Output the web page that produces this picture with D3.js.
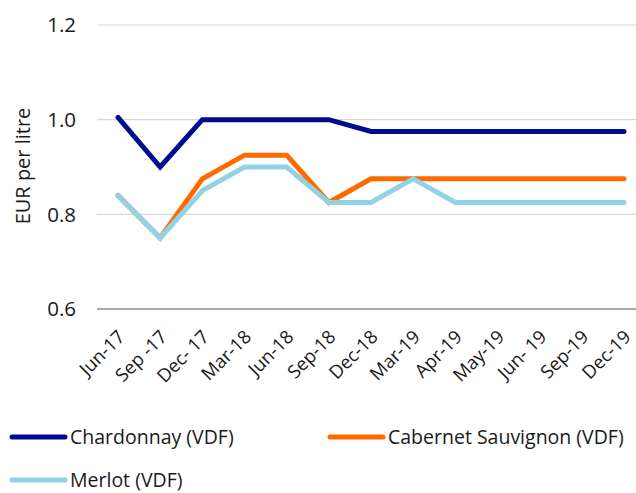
<!DOCTYPE html>
<html>
<head>
<meta charset="utf-8">
<script src="https://cdn.jsdelivr.net/npm/d3@7/dist/d3.min.js"></script>
<style>
  body { margin: 0; background: #fff; }
  text { font-family: "Open Sans", "Noto Sans", sans-serif; fill: #1a1a1a; }
</style>
</head>
<body>
<svg id="chart" width="636" height="493"></svg>
<script>
var months = ["Jun-17", "Sep -17", "Dec- 17", "Mar-18", "Jun-18", "Sep-18", "Dec-18",
              "Mar-19", "Apr-19", "May-19", "Jun- 19", "Sep-19", "Dec-19"];

var chardonnay = [1.005, 0.9, 1.0, 1.0, 1.0, 1.0, 0.975, 0.975, 0.975, 0.975, 0.975, 0.975, 0.975];
var cabernet   = [0.84, 0.75, 0.875, 0.925, 0.925, 0.825, 0.875, 0.875, 0.875, 0.875, 0.875, 0.875, 0.875];
var merlot     = [0.84, 0.75, 0.85, 0.9, 0.9, 0.825, 0.825, 0.875, 0.825, 0.825, 0.825, 0.825, 0.825];

var yTicks = [0.6, 0.8, 1.0, 1.2];

var series = [
  {name: "Chardonnay (VDF)", values: chardonnay, color: "#000c8f"},
  {name: "Cabernet Sauvignon (VDF)", values: cabernet, color: "#ff6a00"},
  {name: "Merlot (VDF)", values: merlot, color: "#92d2e4"}
];

var svg = d3.select("#chart");

var x = d3.scalePoint()
  .domain(months)
  .range([118, 624]);

var y = d3.scaleLinear()
  .domain([0.6, 1.2])
  .range([309, 25]);

// gridlines
svg.append("g")
  .selectAll("line")
  .data(yTicks)
  .enter().append("line")
  .attr("x1", 97).attr("x2", 636)
  .attr("y1", function(d){ return y(d); })
  .attr("y2", function(d){ return y(d); })
  .attr("stroke", function(d){ return d == 0.6 ? "#8c8c8c" : "#d9d9d9"; })
  .attr("stroke-width", function(d){ return d == 0.6 ? 1.5 : 1.2; });

// y tick labels
svg.append("g")
  .selectAll("text")
  .data(yTicks)
  .enter().append("text")
  .attr("x", 76)
  .attr("y", function(d){ return y(d); })
  .attr("dy", "0.35em")
  .attr("text-anchor", "end")
  .attr("font-size", 20.5)
  .text(function(d){ return d3.format(".1f")(d); });

svg.append("text")
  .attr("transform", "translate(30,166) rotate(-90)")
  .attr("text-anchor", "middle")
  .attr("font-size", 20)
  .text("EUR per litre");

// x tick labels
svg.append("g")
  .selectAll("text")
  .data(months)
  .enter().append("text")
  .attr("transform", function(d){ return "translate(" + (x(d) + 8) + ",338) rotate(-45)"; })
  .attr("text-anchor", "end")
  .attr("font-size", 18.5)
  .text(function(d){ return d; });

var line = d3.line()
  .x(function(d, i){ return x(months[i]); })
  .y(function(d){ return y(d); });

// merlot ends up on top, like the reference
series.forEach(function(s){
  svg.append("path")
    .datum(s.values)
    .attr("d", line)
    .attr("fill", "none")
    .attr("stroke", s.color)
    .attr("stroke-width", 5)
    .attr("stroke-linejoin", "miter")
    .attr("stroke-linecap", "round");
});

// legend
var legendPos = [[12, 437], [330, 437], [12, 480]];
var legend = svg.append("g")
  .selectAll("g")
  .data(series)
  .enter().append("g")
  .attr("transform", function(d, i){ return "translate(" + legendPos[i][0] + "," + legendPos[i][1] + ")"; });

legend.append("line")
  .attr("x1", 0).attr("x2", 53)
  .attr("stroke", function(d){ return d.color; })
  .attr("stroke-width", 5)
  .attr("stroke-linecap", "round");

legend.append("text")
  .attr("x", 58)
  .attr("dy", "0.35em")
  .attr("font-size", 19.5)
  .text(function(d){ return d.name; });
</script>
</body>
</html>
